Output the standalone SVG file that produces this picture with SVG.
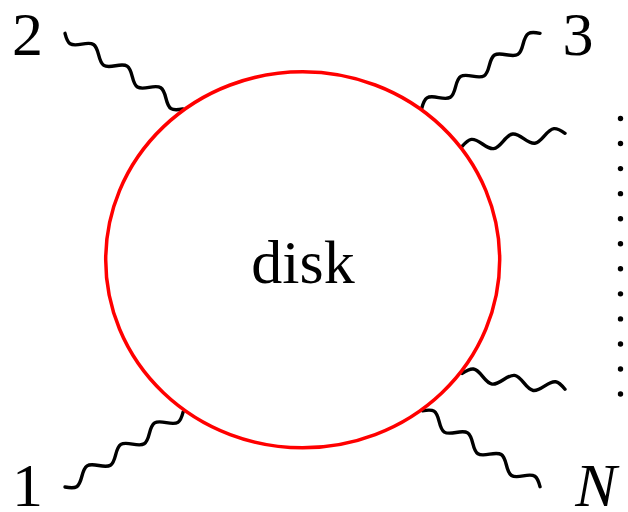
<svg xmlns="http://www.w3.org/2000/svg" xmlns:xlink="http://www.w3.org/1999/xlink" width="628" height="512" viewBox="0 0 628 512">
<style>
.w{fill:none;stroke:#000;stroke-width:3.4;stroke-linecap:round;stroke-linejoin:round}
.disk{fill:none;stroke:#ff0000;stroke-width:3.5}
.t{font-family:"Liberation Serif","DejaVu Serif",serif;font-size:62px;fill:#000;text-anchor:middle}
.dot{fill:#000}
</style>
<defs>
<path id="w140" d="M0,0 c3.343,3.151 6.38,6 10,6 c3.62,0 6.657,-2.849 10,-6 c3.343,-3.151 6.38,-6 10,-6 c3.62,0 6.657,2.849 10,6 c3.343,3.151 6.38,6 10,6 c3.62,0 6.657,-2.849 10,-6 c3.343,-3.151 6.38,-6 10,-6 c3.62,0 6.657,2.849 10,6 c3.343,3.151 6.38,6 10,6 c3.62,0 6.657,-2.849 10,-6 c3.343,-3.151 6.38,-6 10,-6 c3.62,0 6.657,2.849 10,6 c3.343,3.151 6.38,6 10,6 c3.62,0 6.657,-2.849 10,-6"/>
<path id="w104" d="M0,0 c3.477,3.151 6.635,6 10.4,6 c3.765,0 6.923,-2.849 10.4,-6 c3.477,-3.151 6.635,-6 10.4,-6 c3.765,0 6.923,2.849 10.4,6 c3.477,3.151 6.635,6 10.4,6 c3.765,0 6.923,-2.849 10.4,-6 c3.477,-3.151 6.635,-6 10.4,-6 c3.765,0 6.923,2.849 10.4,6 c3.477,3.151 6.635,6 10.4,6 c3.765,0 6.923,-2.849 10.4,-6"/>
</defs>
<g id="connectors">
<use class="w" xlink:href="#w140" href="#w140" transform="translate(65,487) rotate(-32.44)"/>
<use class="w" xlink:href="#w140" href="#w140" transform="translate(65,33.3) rotate(32.75)"/>
<use class="w" xlink:href="#w140" href="#w140" transform="translate(540,33.3) rotate(147.62)"/>
<use class="w" xlink:href="#w140" href="#w140" transform="translate(540,486.7) rotate(-147.16)"/>
<use class="w" xlink:href="#w104" href="#w104" transform="translate(565,133.3) rotate(172.61)"/>
<use class="w" xlink:href="#w104" href="#w104" transform="translate(565,389.3) rotate(-171.2)"/>
</g>
<g id="disk">
<ellipse class="disk" cx="302.7" cy="259.8" rx="197" ry="188"/>
<text class="t" x="303" y="283">disk</text>
</g>
<g id="label-1"><text class="t" x="27.5" y="506">1</text></g>
<g id="label-2"><text class="t" x="27.5" y="55">2</text></g>
<g id="label-3"><text class="t" x="578" y="55">3</text></g>
<g id="label-N"><text class="t" x="596" y="506" font-style="italic">N</text></g>
<g id="dots">
<circle class="dot" cx="620.5" cy="118.5" r="2.7"/>
<circle class="dot" cx="620.5" cy="143.55" r="2.7"/>
<circle class="dot" cx="620.5" cy="168.6" r="2.7"/>
<circle class="dot" cx="620.5" cy="193.65" r="2.7"/>
<circle class="dot" cx="620.5" cy="218.7" r="2.7"/>
<circle class="dot" cx="620.5" cy="243.75" r="2.7"/>
<circle class="dot" cx="620.5" cy="268.8" r="2.7"/>
<circle class="dot" cx="620.5" cy="293.85" r="2.7"/>
<circle class="dot" cx="620.5" cy="318.9" r="2.7"/>
<circle class="dot" cx="620.5" cy="343.95" r="2.7"/>
<circle class="dot" cx="620.5" cy="369" r="2.7"/>
<circle class="dot" cx="620.5" cy="394.05" r="2.7"/>
</g>
</svg>
